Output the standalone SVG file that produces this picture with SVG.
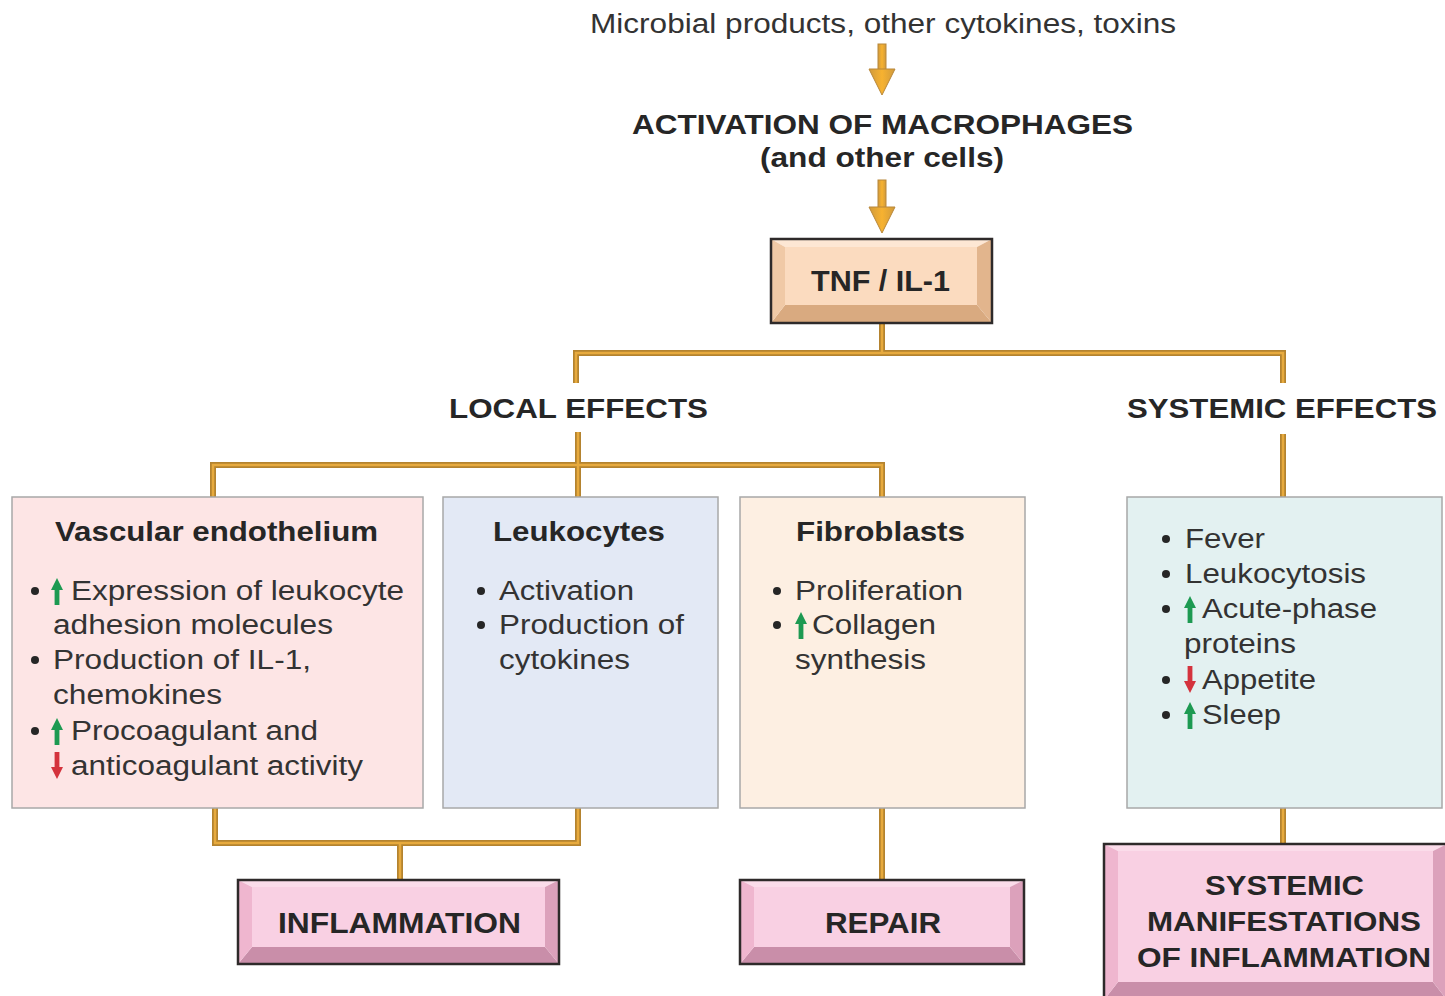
<svg xmlns="http://www.w3.org/2000/svg" xmlns:xlink="http://www.w3.org/1999/xlink" width="1445" height="996" viewBox="0 0 1445 996">
<style>
.t{font-family:"Liberation Sans",Arial,sans-serif;font-size:27px;fill:#333;}
.b{font-family:"Liberation Sans",Arial,sans-serif;font-size:28px;font-weight:bold;fill:#262626;}
.bx{font-family:"Liberation Sans",Arial,sans-serif;font-size:30px;font-weight:bold;fill:#262626;}
.co{fill:none;stroke:#b4832f;stroke-width:6;stroke-linejoin:miter;}
.ci{fill:none;stroke:#e7aa3e;stroke-width:2.5;stroke-linejoin:miter;}
.panel{stroke:#a8a8a8;stroke-width:1.5;}
.frame{fill:none;stroke:#2e2a2a;stroke-width:2.5;}
.bul{fill:#262626;}
.ar{stroke:#b8873a;stroke-width:1;}
</style>
<defs>
<linearGradient id="ag" x1="0" y1="0" x2="1" y2="0">
<stop offset="0" stop-color="#d09a3c"/>
<stop offset="0.5" stop-color="#f7b230"/>
<stop offset="1" stop-color="#d09a3c"/>
</linearGradient>
<g id="up"><polygon points="0,0 6,12 2.4,12 2.4,27 -2.4,27 -2.4,12 -6,12" fill="#1d9a52"/></g>
<g id="dn"><polygon points="0,27 6,15 2.4,15 2.4,0 -2.4,0 -2.4,15 -6,15" fill="#d4333d"/></g>
</defs>
<rect width="1445" height="996" fill="#ffffff"/>

<g id="connectors">
<g>
<rect class="ar" x="878" y="44" width="8" height="27" fill="url(#ag)"/>
<polygon class="ar" points="869,69 895,69 882,95" fill="url(#ag)"/>
<rect class="ar" x="878" y="180" width="8" height="29" fill="url(#ag)"/>
<polygon class="ar" points="869,207 895,207 882,233" fill="url(#ag)"/>
</g>
<path class="co" d="M882,323 V353 M576,383 V353 H1283 V383 M578,432 V497 M213,497 V465 H882 V497 M1283,434 V497 M215,808 V843 H578 V808 M400,843 V880 M882,808 V880 M1283,808 V844"/>
<path class="ci" d="M882,323 V353 M576,383 V353 H1283 V383 M578,432 V497 M213,497 V465 H882 V497 M1283,434 V497 M215,808 V843 H578 V808 M400,843 V880 M882,808 V880 M1283,808 V844"/>
</g>

<g id="source">
<text class="t" x="590" y="33" textLength="586" lengthAdjust="spacingAndGlyphs">Microbial products, other cytokines, toxins</text>
</g>

<g id="activation">
<text class="b" x="632" y="134" textLength="501" lengthAdjust="spacingAndGlyphs">ACTIVATION OF MACROPHAGES</text>
<text class="b" x="760" y="167" textLength="244" lengthAdjust="spacingAndGlyphs">(and other cells)</text>
</g>

<g id="tnf">
<polygon points="771,239 992,239 977,247 785,247" fill="#fde7d4"/>
<polygon points="771,323 992,323 977,305 785,305" fill="#d9aa80"/>
<polygon points="771,239 785,247 785,305 771,323" fill="#f0c9a6"/>
<polygon points="992,239 977,247 977,305 992,323" fill="#e2b58d"/>
<rect x="785" y="247" width="192" height="58" fill="#fbdbbf"/>
<rect class="frame" x="771" y="239" width="221" height="84"/>
<text class="bx" x="811" y="291" textLength="139" lengthAdjust="spacingAndGlyphs">TNF / IL-1</text>
</g>

<g id="local-effects">
<text class="b" x="449" y="418" textLength="259" lengthAdjust="spacingAndGlyphs">LOCAL EFFECTS</text>
</g>

<g id="systemic-effects">
<text class="b" x="1127" y="418" textLength="310" lengthAdjust="spacingAndGlyphs">SYSTEMIC EFFECTS</text>
</g>

<g id="vascular">
<rect class="panel" x="12" y="497" width="411" height="311" fill="#fde5e5"/>
<text class="b" x="55" y="541" textLength="323" lengthAdjust="spacingAndGlyphs">Vascular endothelium</text>
<circle class="bul" cx="35" cy="591" r="4"/>
<use xlink:href="#up" x="57" y="578"/>
<text class="t" x="71" y="600" textLength="333" lengthAdjust="spacingAndGlyphs">Expression of leukocyte</text>
<text class="t" x="53" y="634" textLength="280" lengthAdjust="spacingAndGlyphs">adhesion molecules</text>
<circle class="bul" cx="35" cy="660" r="4"/>
<text class="t" x="53" y="669" textLength="258" lengthAdjust="spacingAndGlyphs">Production of IL-1,</text>
<text class="t" x="53" y="704" textLength="169" lengthAdjust="spacingAndGlyphs">chemokines</text>
<circle class="bul" cx="35" cy="731" r="4"/>
<use xlink:href="#up" x="57" y="718"/>
<text class="t" x="71" y="740" textLength="247" lengthAdjust="spacingAndGlyphs">Procoagulant and</text>
<use xlink:href="#dn" x="57" y="752"/>
<text class="t" x="71" y="775" textLength="292" lengthAdjust="spacingAndGlyphs">anticoagulant activity</text>
</g>

<g id="leukocytes">
<rect class="panel" x="443" y="497" width="275" height="311" fill="#e3e9f5"/>
<text class="b" x="493" y="541" textLength="172" lengthAdjust="spacingAndGlyphs">Leukocytes</text>
<circle class="bul" cx="481" cy="591" r="4"/>
<text class="t" x="499" y="600" textLength="135" lengthAdjust="spacingAndGlyphs">Activation</text>
<circle class="bul" cx="481" cy="625" r="4"/>
<text class="t" x="499" y="634" textLength="185" lengthAdjust="spacingAndGlyphs">Production of</text>
<text class="t" x="499" y="669" textLength="131" lengthAdjust="spacingAndGlyphs">cytokines</text>
</g>

<g id="fibroblasts">
<rect class="panel" x="740" y="497" width="285" height="311" fill="#fdefe2"/>
<text class="b" x="796" y="541" textLength="169" lengthAdjust="spacingAndGlyphs">Fibroblasts</text>
<circle class="bul" cx="777" cy="591" r="4"/>
<text class="t" x="795" y="600" textLength="168" lengthAdjust="spacingAndGlyphs">Proliferation</text>
<circle class="bul" cx="777" cy="625" r="4"/>
<use xlink:href="#up" x="801" y="612"/>
<text class="t" x="812" y="634" textLength="124" lengthAdjust="spacingAndGlyphs">Collagen</text>
<text class="t" x="795" y="669" textLength="131" lengthAdjust="spacingAndGlyphs">synthesis</text>
</g>

<g id="systemic">
<rect class="panel" x="1127" y="497" width="315" height="311" fill="#e3f1f1"/>
<circle class="bul" cx="1166" cy="539" r="4"/>
<text class="t" x="1185" y="548" textLength="80" lengthAdjust="spacingAndGlyphs">Fever</text>
<circle class="bul" cx="1166" cy="574" r="4"/>
<text class="t" x="1185" y="583" textLength="181" lengthAdjust="spacingAndGlyphs">Leukocytosis</text>
<circle class="bul" cx="1166" cy="609" r="4"/>
<use xlink:href="#up" x="1190" y="596"/>
<text class="t" x="1202" y="618" textLength="175" lengthAdjust="spacingAndGlyphs">Acute-phase</text>
<text class="t" x="1184" y="653" textLength="112" lengthAdjust="spacingAndGlyphs">proteins</text>
<circle class="bul" cx="1166" cy="680" r="4"/>
<use xlink:href="#dn" x="1190" y="666"/>
<text class="t" x="1202" y="689" textLength="114" lengthAdjust="spacingAndGlyphs">Appetite</text>
<circle class="bul" cx="1166" cy="715" r="4"/>
<use xlink:href="#up" x="1190" y="702"/>
<text class="t" x="1202" y="724" textLength="79" lengthAdjust="spacingAndGlyphs">Sleep</text>
</g>

<g id="inflammation">
<polygon points="238,880 559,880 545,887 252,887" fill="#fbdcea"/>
<polygon points="238,964 559,964 545,947 252,947" fill="#c98ea9"/>
<polygon points="238,880 252,887 252,947 238,964" fill="#efb6cf"/>
<polygon points="559,880 545,887 545,947 559,964" fill="#dca1bb"/>
<rect x="252" y="887" width="293" height="60" fill="#f9d0e3"/>
<rect class="frame" x="238" y="880" width="321" height="84"/>
<text class="bx" x="278" y="933" textLength="243" lengthAdjust="spacingAndGlyphs">INFLAMMATION</text>
</g>

<g id="repair">
<polygon points="740,880 1024,880 1010,887 754,887" fill="#fbdcea"/>
<polygon points="740,964 1024,964 1010,947 754,947" fill="#c98ea9"/>
<polygon points="740,880 754,887 754,947 740,964" fill="#efb6cf"/>
<polygon points="1024,880 1010,887 1010,947 1024,964" fill="#dca1bb"/>
<rect x="754" y="887" width="256" height="60" fill="#f9d0e3"/>
<rect class="frame" x="740" y="880" width="284" height="84"/>
<text class="bx" x="825" y="933" textLength="116" lengthAdjust="spacingAndGlyphs">REPAIR</text>
</g>

<g id="systemic-manifestations">
<polygon points="1104,844 1447,844 1433,851 1118,851" fill="#fbdcea"/>
<polygon points="1104,1000 1447,1000 1433,982 1118,982" fill="#c98ea9"/>
<polygon points="1104,844 1118,851 1118,982 1104,1000" fill="#efb6cf"/>
<polygon points="1447,844 1433,851 1433,982 1447,1000" fill="#dca1bb"/>
<rect x="1118" y="851" width="315" height="131" fill="#f9d0e3"/>
<rect class="frame" x="1104" y="844" width="343" height="156"/>
<text class="b" x="1205" y="895" textLength="159" lengthAdjust="spacingAndGlyphs">SYSTEMIC</text>
<text class="b" x="1147" y="931" textLength="274" lengthAdjust="spacingAndGlyphs">MANIFESTATIONS</text>
<text class="b" x="1137" y="967" textLength="294" lengthAdjust="spacingAndGlyphs">OF INFLAMMATION</text>
</g>
</svg>
